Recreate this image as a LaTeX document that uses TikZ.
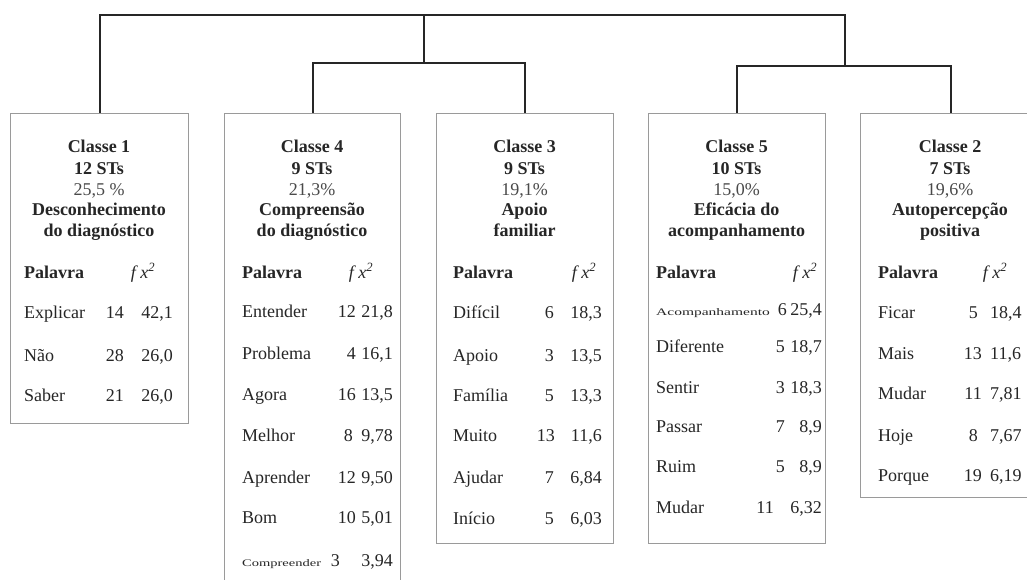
\documentclass[tikz,border=0pt]{standalone}
\usepackage{fontspec}
\setmainfont{Liberation Serif}
\usepackage{graphicx}
\definecolor{txt}{HTML}{262626}
\definecolor{pctc}{HTML}{4A4A4A}
\definecolor{boxc}{HTML}{9A9A9A}
\definecolor{dendc}{HTML}{262626}
\tikzset{
  box/.style={draw=boxc, line width=1.4pt, fill=white, inner sep=0pt, anchor=north west},
  dend/.style={draw=dendc, line width=1.8pt},
  ttl/.style={anchor=base, inner sep=0pt, text=txt, font=\fontsize{18}{20}\selectfont\bfseries},
  pct/.style={anchor=base, inner sep=0pt, text=pctc, font=\fontsize{18}{20}\selectfont},
  hdr/.style={anchor=base west, inner sep=0pt, text=txt, font=\fontsize{18}{20}\selectfont\bfseries},
  fxh/.style={anchor=base, inner sep=0pt, text=txt, font=\fontsize{18}{20}\selectfont},
  wrd/.style={anchor=base west, inner sep=0pt, text=txt, font=\fontsize{18}{20}\selectfont},
  num/.style={anchor=base east, inner sep=0pt, text=txt, font=\fontsize{18}{20}\selectfont},
  numl/.style={anchor=base west, inner sep=0pt, text=txt, font=\fontsize{18}{20}\selectfont},
}
% title block: name, center x, lines
\newcommand\mytitle[6]{%
  \node[ttl] (#1-t1) at (#2,153) {#3};
  \node[ttl] (#1-t2) at (#2,175) {#4};
  \node[pct] (#1-t3) at (#2,196) {#5};
  \node[ttl] (#1-t4) at (#2,215) {#6};
}
\newcommand\mytitleb[3]{%
  \node[ttl] (#1-t5) at (#2,236) {#3};
}
\newcommand\myhead[4]{%
  \node[hdr] (#1-hw) at (#2,278) {Palavra};
  \node[fxh] (#1-hf) at (#3,278) {\textit{f x}\textsuperscript{\textit{2}}};
}
% row: name, y, word x, word, freq right x, freq, chi right x, chi
\newcommand\myrow[8]{%
  \node[wrd] (#1-w) at (#3,#2+6) {#4};
  \node[num] (#1-f) at (#5,#2+6) {#6};
  \node[num] (#1-c) at (#7,#2+6) {#8};
}
\newcommand\myrowl[8]{%
  \node[wrd] (#1-w) at (#3,#2+6) {#4};
  \node[num] (#1-f) at (#5,#2+6) {#6};
  \node[numl] (#1-c) at (#7,#2+6) {#8};
}
\newcommand\smallword[2]{\scalebox{#1}[1]{\fontsize{10}{12}\selectfont #2}}
\begin{document}
\begin{tikzpicture}[x=1pt,y=-1pt]
\useasboundingbox (0,0) rectangle (1027,580);
\fill[white] (0,0) rectangle (1027,580);
\clip (0,0) rectangle (1027,580);

% boxes
\node[box, minimum width=178pt, minimum height=310pt] (c1) at (10,113) {};
\node[box, minimum width=176pt, minimum height=500pt] (c4) at (224,113) {};
\node[box, minimum width=177pt, minimum height=430pt] (c3) at (436,113) {};
\node[box, minimum width=177pt, minimum height=430pt] (c5) at (648,113) {};
\node[box, minimum width=180pt, minimum height=384pt] (c2) at (860,113) {};

% dendrogram
\coordinate (tl) at (424,15);
\coordinate (jl) at (424,63);
\coordinate (jr) at (845,66);
\draw[dend] (c1.north) |- (tl) -| (jr);
\draw[dend] (tl) -- (jl);
\draw[dend] (c4.north) |- (jl) -| (c3.north);
\draw[dend] (c5.north) |- (jr) -| (c2.north);

% Classe 1
\mytitle{c1}{99}{Classe 1}{12 STs}{25,5 \%}{Desconhecimento}
\mytitleb{c1}{99}{do diagnóstico}
\myhead{c1}{24}{143}{}
\myrow{c1r1}{312}{24}{Explicar}{124}{14}{173}{42,1}
\myrow{c1r2}{355}{24}{Não}{124}{28}{173}{26,0}
\myrow{c1r3}{395}{24}{Saber}{124}{21}{173}{26,0}

% Classe 4
\mytitle{c4}{312}{Classe 4}{9 STs}{21,3\%}{Compreensão}
\mytitleb{c4}{312}{do diagnóstico}
\myhead{c4}{242}{361}{}
\myrow{c4r1}{311}{242}{Entender}{356}{12}{393}{21,8}
\myrow{c4r2}{353}{242}{Problema}{356}{4}{393}{16,1}
\myrow{c4r3}{394}{242}{Agora}{356}{16}{393}{13,5}
\myrow{c4r4}{435}{242}{Melhor}{353}{8}{393}{9,78}
\myrow{c4r5}{477}{242}{Aprender}{356}{12}{393}{9,50}
\myrow{c4r6}{517}{242}{Bom}{356}{10}{393}{5,01}
\myrow{c4r7}{560}{242}{\smallword{1.45}{Compreender}}{340}{3}{393}{3,94}

% Classe 3
\mytitle{c3}{524.5}{Classe 3}{9 STs}{19,1\%}{Apoio}
\mytitleb{c3}{524.5}{familiar}
\myhead{c3}{453}{584}{}
\myrow{c3r1}{312}{453}{Difícil}{554}{6}{602}{18,3}
\myrow{c3r2}{355}{453}{Apoio}{554}{3}{602}{13,5}
\myrow{c3r3}{395}{453}{Família}{554}{5}{602}{13,3}
\myrow{c3r4}{435}{453}{Muito}{555}{13}{602}{11,6}
\myrow{c3r5}{477}{453}{Ajudar}{554}{7}{602}{6,84}
\myrow{c3r6}{518}{453}{Início}{554}{5}{602}{6,03}

% Classe 5
\mytitle{c5}{736.5}{Classe 5}{10 STs}{15,0\%}{Eficácia do}
\mytitleb{c5}{736.5}{acompanhamento}
\myhead{c5}{656}{805}{}
\myrow{c5r1}{309}{656}{\smallword{1.55}{Acompanhamento}}{787}{6}{822}{25,4}
\myrow{c5r2}{346}{656}{Diferente}{785}{5}{822}{18,7}
\myrow{c5r3}{387}{656}{Sentir}{785}{3}{822}{18,3}
\myrow{c5r4}{426}{656}{Passar}{785}{7}{822}{8,9}
\myrow{c5r5}{466}{656}{Ruim}{785}{5}{822}{8,9}
\myrow{c5r6}{507}{656}{Mudar}{774}{11}{822}{6,32}

% Classe 2
\mytitle{c2}{950}{Classe 2}{7 STs}{19,6\%}{Autopercepção}
\mytitleb{c2}{950}{positiva}
\myhead{c2}{878}{995}{}
\myrowl{c2r1}{312}{878}{Ficar}{978}{5}{990}{18,4}
\myrowl{c2r2}{353}{878}{Mais}{982}{13}{990}{11,6}
\myrowl{c2r3}{393}{878}{Mudar}{982}{11}{990}{7,81}
\myrowl{c2r4}{435}{878}{Hoje}{978}{8}{990}{7,67}
\myrowl{c2r5}{475}{878}{Porque}{982}{19}{990}{6,19}
\end{tikzpicture}
\end{document}
